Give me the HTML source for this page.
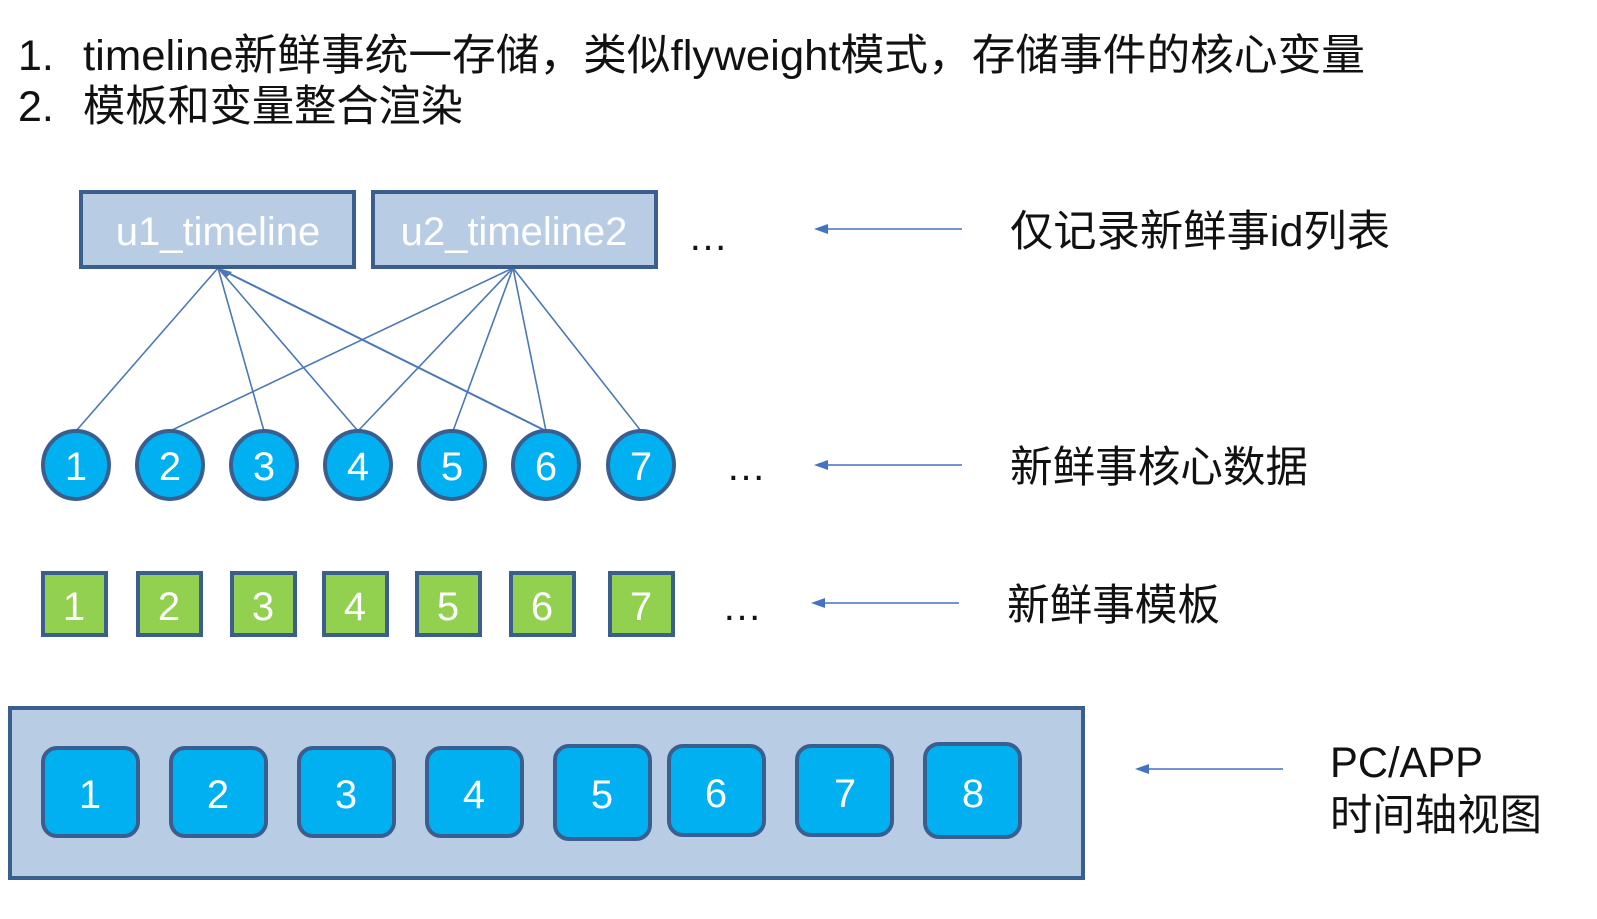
<!DOCTYPE html>
<html><head><meta charset="utf-8"><style>
body{margin:0;background:#fff}
svg{display:block}
text{font-family:"Liberation Sans","Noto Sans CJK SC",sans-serif}
</style></head><body>
<svg width="1597" height="919" viewBox="0 0 1597 919" xmlns="http://www.w3.org/2000/svg">
<g fill="#111" font-size="43">
<text x="18" y="70">1.</text><text x="83" y="70" textLength="1282" lengthAdjust="spacingAndGlyphs">timeline新鲜事统一存储，类似flyweight模式，存储事件的核心变量</text>
<text x="18" y="121">2.</text><text x="83" y="121" textLength="380" lengthAdjust="spacingAndGlyphs">模板和变量整合渲染</text>
</g>
<g stroke="#4a78b8" stroke-width="1.6">
<line x1="218" y1="268" x2="76" y2="431"/><line x1="218" y1="268" x2="264" y2="431"/><line x1="218" y1="268" x2="358" y2="431"/><line x1="222" y1="270" x2="546" y2="431" stroke-width="2"/>
<line x1="513" y1="268" x2="170" y2="431"/><line x1="513" y1="268" x2="358" y2="431"/><line x1="513" y1="268" x2="453" y2="431"/><line x1="513" y1="268" x2="546" y2="431"/><line x1="513" y1="268" x2="641" y2="431"/>
</g>
<path d="M218,268 L232,272 L226,278 Z" fill="#4a78b8"/>
<g fill="#b8cce4" stroke="#3a5f8f" stroke-width="4">
<rect x="81" y="192" width="273" height="75"/><rect x="373" y="192" width="283" height="75"/>
</g>
<g fill="#fff" font-size="40" text-anchor="middle">
<text x="218" y="245">u1_timeline</text><text x="514" y="245">u2_timeline2</text>
</g>
<g fill="#00b0f0" stroke="#3a5f8f" stroke-width="4">
<ellipse cx="76" cy="465" rx="33" ry="34"/><ellipse cx="170" cy="465" rx="33" ry="34"/><ellipse cx="264" cy="465" rx="33" ry="34"/><ellipse cx="358" cy="465" rx="33" ry="34"/><ellipse cx="452" cy="465" rx="33" ry="34"/><ellipse cx="546" cy="465" rx="33" ry="34"/><ellipse cx="641" cy="465" rx="33" ry="34"/>
</g>
<g fill="#fff" font-size="40" text-anchor="middle">
<text x="76" y="480">1</text><text x="170" y="480">2</text><text x="264" y="480">3</text><text x="358" y="480">4</text><text x="452" y="480">5</text><text x="546" y="480">6</text><text x="641" y="480">7</text>
</g>
<g fill="#92d050" stroke="#3a5f8f" stroke-width="4">
<rect x="43" y="573" width="63" height="62"/><rect x="138" y="573" width="63" height="62"/><rect x="232" y="573" width="63" height="62"/><rect x="324" y="573" width="63" height="62"/><rect x="417" y="573" width="63" height="62"/><rect x="511" y="573" width="63" height="62"/><rect x="610" y="573" width="63" height="62"/>
</g>
<g fill="#fff" font-size="40" text-anchor="middle">
<text x="74" y="620">1</text><text x="169" y="620">2</text><text x="263" y="620">3</text><text x="355" y="620">4</text><text x="448" y="620">5</text><text x="542" y="620">6</text><text x="641" y="620">7</text>
</g>
<rect x="10" y="708" width="1073" height="170" fill="#b8cce4" stroke="#3a5f8f" stroke-width="4"/>
<g fill="#00b0f0" stroke="#3a5f8f" stroke-width="4">
<rect x="43" y="748" width="95" height="88" rx="14"/><rect x="171" y="748" width="95" height="88" rx="14"/><rect x="299" y="748" width="95" height="88" rx="14"/><rect x="427" y="748" width="95" height="88" rx="14"/><rect x="555" y="746" width="95" height="93" rx="14"/><rect x="669" y="746" width="95" height="89" rx="14"/><rect x="797" y="746" width="95" height="89" rx="14"/><rect x="925" y="744" width="95" height="93" rx="14"/>
</g>
<g fill="#fff" font-size="40" text-anchor="middle">
<text x="90" y="808">1</text><text x="218" y="808">2</text><text x="346" y="808">3</text><text x="474" y="808">4</text><text x="602" y="808">5</text><text x="716" y="807">6</text><text x="845" y="807">7</text><text x="973" y="807">8</text>
</g>
<g fill="#111" font-size="40">
<text x="688" y="250">…</text><text x="726" y="480">…</text><text x="722" y="620">…</text>
</g>
<g stroke="#4472c4" stroke-width="1.6">
<line x1="962" y1="229" x2="820" y2="229"/><line x1="962" y1="465" x2="820" y2="465"/><line x1="959" y1="603" x2="817" y2="603"/><line x1="1283" y1="769" x2="1141" y2="769"/>
</g>
<g fill="#4472c4">
<path d="M814,229 L828,224 L828,234 Z"/><path d="M814,465 L828,460 L828,470 Z"/><path d="M811,603 L825,598 L825,608 Z"/><path d="M1135,769 L1149,764 L1149,774 Z"/>
</g>
<g fill="#111" font-size="43">
<text x="1010" y="246" textLength="380" lengthAdjust="spacingAndGlyphs">仅记录新鲜事id列表</text>
<text x="1010" y="482" textLength="298" lengthAdjust="spacingAndGlyphs">新鲜事核心数据</text>
<text x="1007" y="620" textLength="213" lengthAdjust="spacingAndGlyphs">新鲜事模板</text>
<text x="1330" y="777" textLength="153" lengthAdjust="spacingAndGlyphs">PC/APP</text>
<text x="1330" y="830" textLength="212" lengthAdjust="spacingAndGlyphs">时间轴视图</text>
</g>
</svg>
</body></html>
